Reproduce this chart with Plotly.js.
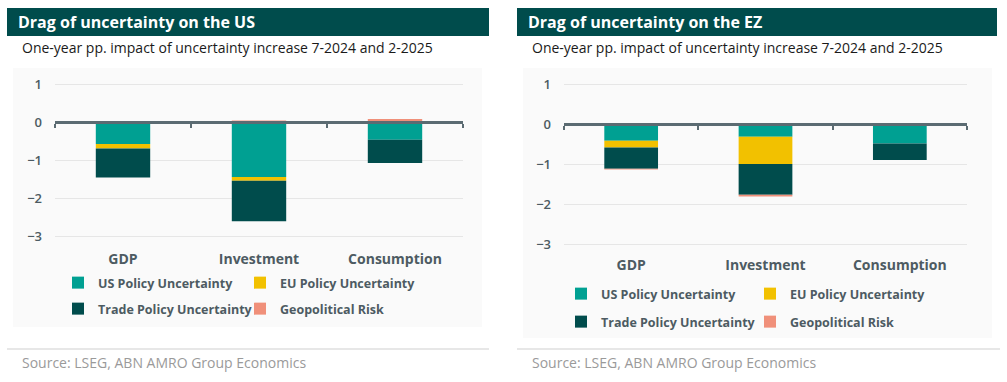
<!DOCTYPE html>
<html>
<head>
<meta charset="utf-8">
<script src="https://cdn.plot.ly/plotly-3.0.1.min.js"></script>
<style>
html,body{margin:0;padding:0;background:#fff;}
#chart{width:1007px;height:382px;}
</style>
</head>
<body>
<div id="chart"></div>
<script>
// ---------- data ----------
const categories = ["GDP", "Investment", "Consumption"];
const seriesNames = ["US Policy Uncertainty", "EU Policy Uncertainty", "Trade Policy Uncertainty", "Geopolitical Risk"];

// Panel 1: Drag of uncertainty on the US
const usUSPolicy   = [-0.57, -1.44, -0.46];
const usEUPolicy   = [-0.12, -0.10, 0.00];
const usTrade      = [-0.76, -1.07, -0.61];
const usGeo        = [0.00, 0.05, 0.09];

// Panel 2: Drag of uncertainty on the EZ
const ezUSPolicy   = [-0.42, -0.32, -0.49];
const ezEUPolicy   = [-0.17, -0.68, 0.00];
const ezTrade      = [-0.53, -0.77, -0.41];
const ezGeo        = [-0.02, -0.04, 0.00];

const yTicks = [-3, -2, -1, 0, 1];

const titles = ["Drag of uncertainty on the US", "Drag of uncertainty on the EZ"];
const subtitle = "One-year pp. impact of uncertainty increase 7-2024 and 2-2025";
const sourceText = "Source: LSEG, ABN AMRO Group Economics";

// ---------- styling ----------
const colors = ["#00A092", "#F2C100", "#004C4C", "#F0907A"];
const W = 1007, H = 382;
const FONT = "Open Sans, sans-serif";
const axisText = "#4D5B62";
const axisLine = "#5B6B72";
const px = v => v / W;
const py = v => 1 - v / H;

const usSeries = [usUSPolicy, usEUPolicy, usTrade, usGeo];
const ezSeries = [ezUSPolicy, ezEUPolicy, ezTrade, ezGeo];

const traces = [];
usSeries.forEach((vals, i) => {
  traces.push({
    type: "bar", x: categories, y: vals, name: seriesNames[i],
    xaxis: "x", yaxis: "y",
    legend: i < 2 ? "legend" : "legend2",
    marker: {color: colors[i], line: {width: 0}},
    hoverinfo: "x+y+name"
  });
});
ezSeries.forEach((vals, i) => {
  traces.push({
    type: "bar", x: categories, y: vals, name: seriesNames[i],
    xaxis: "x2", yaxis: "y2",
    legend: i < 2 ? "legend3" : "legend4",
    marker: {color: colors[i], line: {width: 0}},
    hoverinfo: "x+y+name"
  });
});
// empty helper traces so the zero-line axes (with boundary ticks) are drawn
traces.push({type: "scatter", x: [], y: [], xaxis: "x3", yaxis: "y", mode: "none", showlegend: false, hoverinfo: "skip"});
traces.push({type: "scatter", x: [], y: [], xaxis: "x4", yaxis: "y2", mode: "none", showlegend: false, hoverinfo: "skip"});

// plot geometry
const p1 = {x0: 55, x1: 463, y0: 72, y1: 246, r: [-3.26, 1.33]};
const p2 = {x0: 564, x1: 967, y0: 72, y1: 252, r: [-3.2, 1.3]};
function zeroPos(p) {
  const d0 = py(p.y1), d1 = py(p.y0);
  return d0 + (0 - p.r[0]) / (p.r[1] - p.r[0]) * (d1 - d0);
}

const tickFont = {family: FONT, size: 13, color: axisText, weight: 600};

function catAxis(p) {
  return {
    domain: [px(p.x0), px(p.x1)], type: "category",
    showline: false, showgrid: false, zeroline: false, ticks: "",
    tickfont: {family: FONT, size: 14, color: axisText, weight: 700},
    ticklabelstandoff: 3, fixedrange: true
  };
}
function valAxis(p) {
  return {
    domain: [py(p.y1), py(p.y0)], range: p.r, tickvals: yTicks,
    showgrid: true, gridcolor: "#E6E6E6", gridwidth: 1, zeroline: false,
    showline: false, ticks: "", tickfont: tickFont, ticklabelstandoff: 12,
    fixedrange: true
  };
}
function zeroAxis(over, p) {
  return {
    overlaying: over, anchor: "free", position: zeroPos(p),
    domain: [px(p.x0), px(p.x1)],
    range: [-0.5, 2.5], tickvals: [-0.5, 0.5, 1.5, 2.5],
    showticklabels: false, ticks: "outside", ticklen: 4, tickwidth: 2,
    tickcolor: axisLine, showline: true, linecolor: axisLine, linewidth: 2.5,
    showgrid: false, zeroline: false, fixedrange: true
  };
}

function legendDef(x, y, ew) {
  return {
    orientation: "h", x: px(x), y: py(y), xanchor: "left", yanchor: "middle",
    entrywidth: ew, entrywidthmode: "pixels", itemwidth: 30,
    bgcolor: "rgba(0,0,0,0)", traceorder: "normal",
    font: {family: FONT, size: 12.5, color: axisText, weight: 700},
    itemclick: false, itemdoubleclick: false
  };
}

const shapes = [
  // plot backgrounds
  {type: "rect", xref: "paper", yref: "paper", x0: px(13), x1: px(482), y0: py(327), y1: py(68), fillcolor: "#FAFAFA", line: {width: 0}, layer: "below"},
  {type: "rect", xref: "paper", yref: "paper", x0: px(523), x1: px(992), y0: py(338), y1: py(68), fillcolor: "#FAFAFA", line: {width: 0}, layer: "below"},
  // title bars
  {type: "rect", xref: "paper", yref: "paper", x0: px(7), x1: px(489), y0: py(36), y1: py(8), fillcolor: "#004C4C", line: {width: 0}, layer: "below"},
  {type: "rect", xref: "paper", yref: "paper", x0: px(517), x1: px(997), y0: py(36), y1: py(8), fillcolor: "#004C4C", line: {width: 0}, layer: "below"},
  // source separators
  {type: "line", xref: "paper", yref: "paper", x0: px(7), x1: px(489), y0: py(349), y1: py(349), line: {color: "#CFCFCF", width: 1}},
  {type: "line", xref: "paper", yref: "paper", x0: px(517), x1: px(1000), y0: py(349), y1: py(349), line: {color: "#CFCFCF", width: 1}}
];

function ann(text, x, y, font) {
  return {text: text, xref: "paper", yref: "paper", x: px(x), y: py(y), xanchor: "left", yanchor: "middle", showarrow: false, font: font};
}
const titleFont = {family: FONT, size: 16, color: "#FFFFFF", weight: 700};
const subFont = {family: FONT, size: 14, color: "#1A1A1A"};
const srcFont = {family: FONT, size: 14, color: "#9A9A9A"};

const annotations = [
  ann(titles[0], 16, 22, titleFont),
  ann(titles[1], 526, 22, titleFont),
  ann(subtitle, 20, 47, subFont),
  ann(subtitle, 530, 47, subFont),
  ann(sourceText, 20, 362, srcFont),
  ann(sourceText, 530, 362, srcFont)
];

const layout = {
  width: W, height: H,
  margin: {l: 0, r: 0, t: 0, b: 0, pad: 0},
  paper_bgcolor: "#FFFFFF", plot_bgcolor: "rgba(0,0,0,0)",
  barmode: "relative", bargap: 0.6,
  font: {family: FONT, color: axisText},
  xaxis: Object.assign(catAxis(p1), {anchor: "y"}),
  yaxis: Object.assign(valAxis(p1), {anchor: "x"}),
  xaxis2: Object.assign(catAxis(p2), {anchor: "y2"}),
  yaxis2: Object.assign(valAxis(p2), {anchor: "x2"}),
  xaxis3: zeroAxis("x", p1),
  xaxis4: zeroAxis("x2", p2),
  showlegend: true,
  legend: legendDef(58, 283, 137),
  legend2: legendDef(58, 309, 137),
  legend3: legendDef(561, 294, 144),
  legend4: legendDef(561, 322, 144),
  shapes: shapes,
  annotations: annotations
};

Plotly.newPlot("chart", traces, layout, {displayModeBar: false, staticPlot: true});
</script>
</body>
</html>
